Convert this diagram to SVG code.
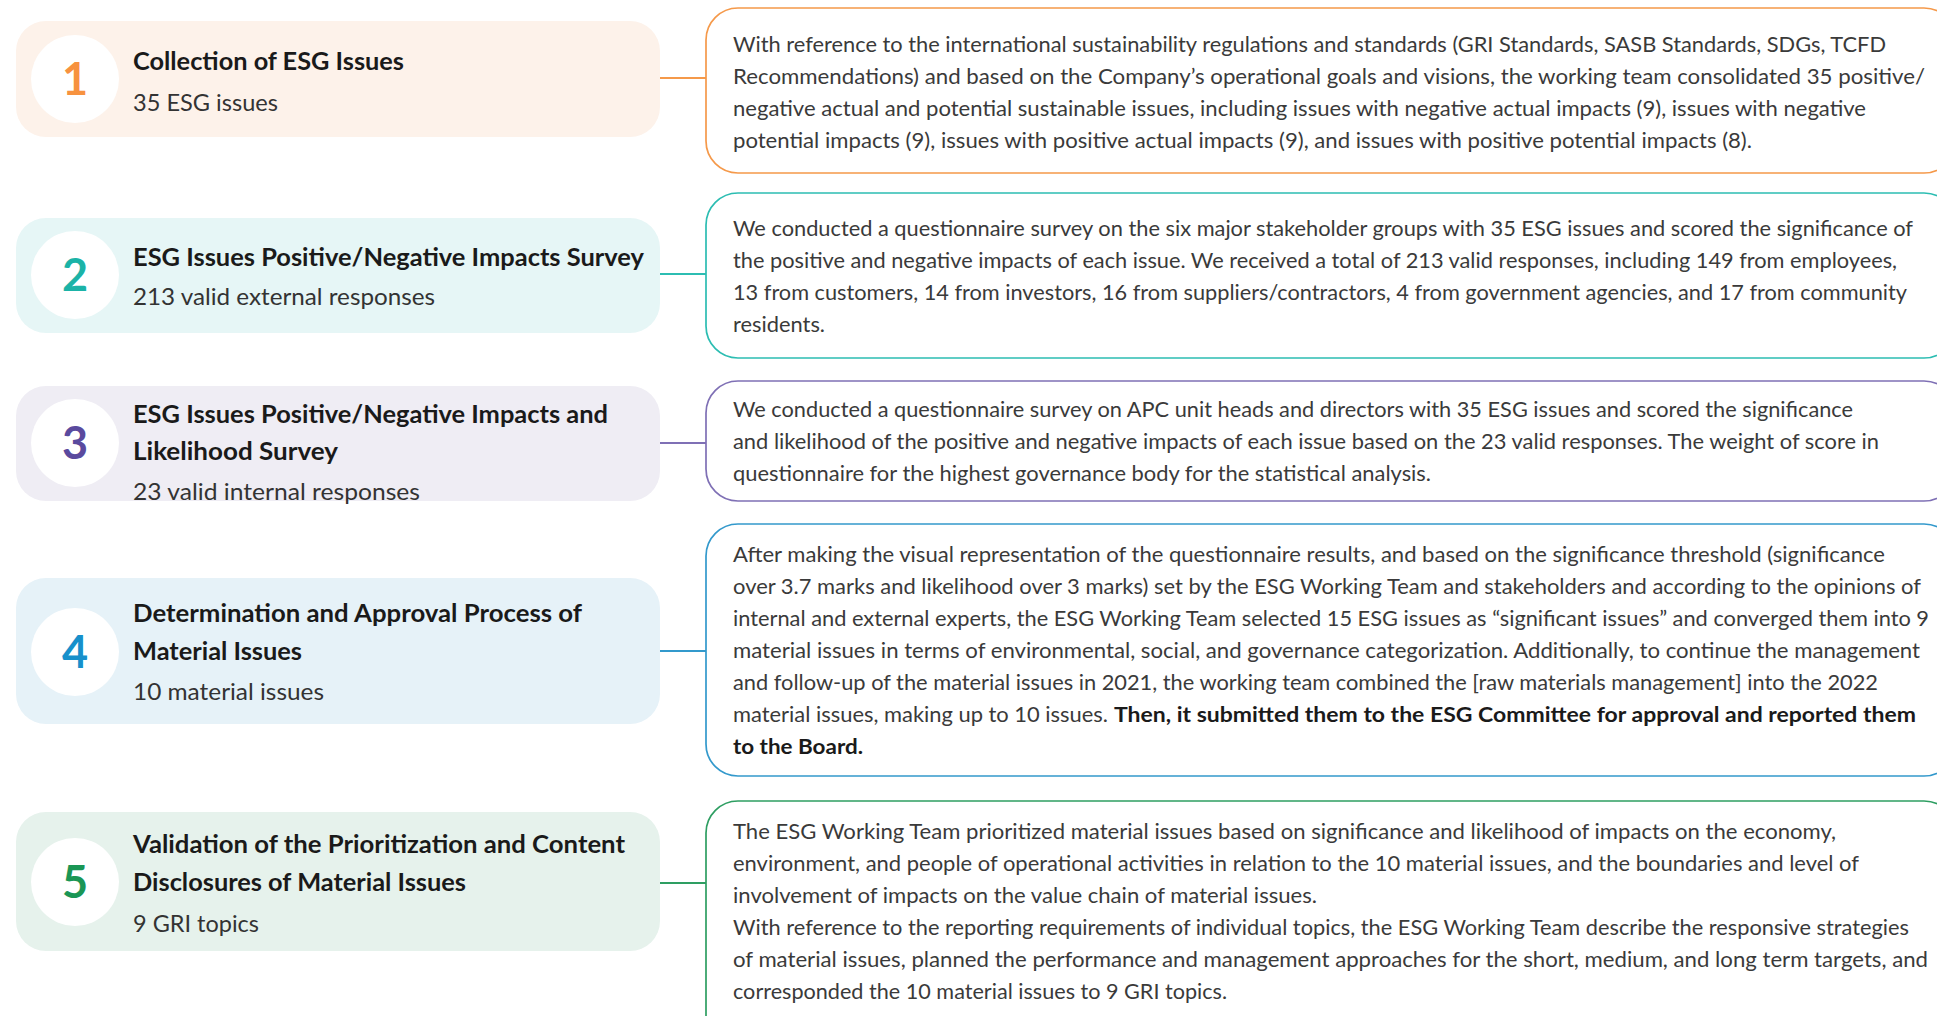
<svg xmlns="http://www.w3.org/2000/svg" width="1937" height="1016" viewBox="0 0 1937 1016">
<style>
.card{stroke:none}
.circ{fill:#ffffff}
.num{font-family:Lato,"Liberation Sans",sans-serif;font-weight:700;font-size:45px;text-anchor:middle}
.ttl{font-family:Lato,"Liberation Sans",sans-serif;font-weight:700;font-size:24px;fill:#1a1a1a}
.sub{font-family:Lato,"Liberation Sans",sans-serif;font-weight:400;font-size:24px;fill:#333333}
.box{fill:#ffffff;stroke-width:1.7}
.body{font-family:Lato,"Liberation Sans",sans-serif;font-weight:400;font-size:21px;fill:#3a3a3a}
.bold{font-weight:700;fill:#1a1a1a}
.conn{stroke-width:2;fill:none}
</style>
<rect width="1937" height="1016" fill="#ffffff"/>
<g id="connectors">
<line class="conn" x1="660" y1="78" x2="707" y2="78" stroke="#F5994A"/>
<line class="conn" x1="660" y1="274" x2="707" y2="274" stroke="#2CBDB2"/>
<line class="conn" x1="660" y1="443" x2="707" y2="443" stroke="#7F70B5"/>
<line class="conn" x1="660" y1="651" x2="707" y2="651" stroke="#3399CC"/>
<line class="conn" x1="660" y1="883" x2="707" y2="883" stroke="#2E9E62"/>
</g>
<g id="step1">
<rect class="card" x="16" y="21" width="644" height="116" rx="30" fill="#FDF2EA"/>
<circle class="circ" cx="75" cy="79" r="44"/>
<text class="num" x="75" y="95" fill="#F7923F">1</text>
<text class="ttl" x="133" y="70" textLength="271" lengthAdjust="spacingAndGlyphs">Collection of ESG Issues</text>
<text class="sub" x="133" y="111" textLength="145" lengthAdjust="spacingAndGlyphs">35 ESG issues</text>
</g>
<g id="detail1">
<rect class="box" x="706" y="8" width="1250" height="165" rx="32" stroke="#F5994A"/>
<text class="body" x="733" y="52" textLength="1153" lengthAdjust="spacingAndGlyphs">With reference to the international sustainability regulations and standards (GRI Standards, SASB Standards, SDGs, TCFD</text>
<text class="body" x="733" y="84" textLength="1192" lengthAdjust="spacingAndGlyphs">Recommendations) and based on the Company’s operational goals and visions, the working team consolidated 35 positive/</text>
<text class="body" x="733" y="116" textLength="1133" lengthAdjust="spacingAndGlyphs">negative actual and potential sustainable issues, including issues with negative actual impacts (9), issues with negative</text>
<text class="body" x="733" y="148" textLength="1019" lengthAdjust="spacingAndGlyphs">potential impacts (9), issues with positive actual impacts (9), and issues with positive potential impacts (8).</text>
</g>
<g id="step2">
<rect class="card" x="16" y="218" width="644" height="115" rx="30" fill="#E6F6F6"/>
<circle class="circ" cx="75" cy="275" r="44"/>
<text class="num" x="75" y="291" fill="#1BB3A7">2</text>
<text class="ttl" x="133" y="266" textLength="511" lengthAdjust="spacingAndGlyphs">ESG Issues Positive/Negative Impacts Survey</text>
<text class="sub" x="133" y="305" textLength="302" lengthAdjust="spacingAndGlyphs">213 valid external responses</text>
</g>
<g id="detail2">
<rect class="box" x="706" y="193" width="1250" height="165" rx="32" stroke="#2CBDB2"/>
<text class="body" x="733" y="236" textLength="1180" lengthAdjust="spacingAndGlyphs">We conducted a questionnaire survey on the six major stakeholder groups with 35 ESG issues and scored the significance of</text>
<text class="body" x="733" y="268" textLength="1164" lengthAdjust="spacingAndGlyphs">the positive and negative impacts of each issue. We received a total of 213 valid responses, including 149 from employees,</text>
<text class="body" x="733" y="300" textLength="1174" lengthAdjust="spacingAndGlyphs">13 from customers, 14 from investors, 16 from suppliers/contractors, 4 from government agencies, and 17 from community</text>
<text class="body" x="733" y="332" textLength="92" lengthAdjust="spacingAndGlyphs">residents.</text>
</g>
<g id="step3">
<rect class="card" x="16" y="386" width="644" height="115" rx="30" fill="#EFEDF4"/>
<circle class="circ" cx="75" cy="443" r="44"/>
<text class="num" x="75" y="459" fill="#5A4A9E">3</text>
<text class="ttl" x="133" y="423" textLength="475" lengthAdjust="spacingAndGlyphs">ESG Issues Positive/Negative Impacts and</text>
<text class="ttl" x="133" y="460" textLength="205" lengthAdjust="spacingAndGlyphs">Likelihood Survey</text>
<text class="sub" x="133" y="500" textLength="287" lengthAdjust="spacingAndGlyphs">23 valid internal responses</text>
</g>
<g id="detail3">
<rect class="box" x="706" y="381" width="1250" height="120" rx="32" stroke="#7F70B5"/>
<text class="body" x="733" y="417" textLength="1120" lengthAdjust="spacingAndGlyphs">We conducted a questionnaire survey on APC unit heads and directors with 35 ESG issues and scored the significance</text>
<text class="body" x="733" y="449" textLength="1146" lengthAdjust="spacingAndGlyphs">and likelihood of the positive and negative impacts of each issue based on the 23 valid responses. The weight of score in</text>
<text class="body" x="733" y="481" textLength="698" lengthAdjust="spacingAndGlyphs">questionnaire for the highest governance body for the statistical analysis.</text>
</g>
<g id="step4">
<rect class="card" x="16" y="578" width="644" height="146" rx="30" fill="#E6F2F8"/>
<circle class="circ" cx="75" cy="652" r="44"/>
<text class="num" x="75" y="668" fill="#1790CB">4</text>
<text class="ttl" x="133" y="622" textLength="449" lengthAdjust="spacingAndGlyphs">Determination and Approval Process of</text>
<text class="ttl" x="133" y="660" textLength="169" lengthAdjust="spacingAndGlyphs">Material Issues</text>
<text class="sub" x="133" y="700" textLength="191" lengthAdjust="spacingAndGlyphs">10 material issues</text>
</g>
<g id="detail4">
<rect class="box" x="706" y="524" width="1250" height="252" rx="32" stroke="#3399CC"/>
<text class="body" x="733" y="562" textLength="1152" lengthAdjust="spacingAndGlyphs">After making the visual representation of the questionnaire results, and based on the significance threshold (significance</text>
<text class="body" x="733" y="594" textLength="1188" lengthAdjust="spacingAndGlyphs">over 3.7 marks and likelihood over 3 marks) set by the ESG Working Team and stakeholders and according to the opinions of</text>
<text class="body" x="733" y="626" textLength="1196" lengthAdjust="spacingAndGlyphs">internal and external experts, the ESG Working Team selected 15 ESG issues as “significant issues” and converged them into 9</text>
<text class="body" x="733" y="658" textLength="1187" lengthAdjust="spacingAndGlyphs">material issues in terms of environmental, social, and governance categorization. Additionally, to continue the management</text>
<text class="body" x="733" y="690" textLength="1145" lengthAdjust="spacingAndGlyphs">and follow-up of the material issues in 2021, the working team combined the [raw materials management] into the 2022</text>
<text class="body" x="733" y="722" textLength="375" lengthAdjust="spacingAndGlyphs">material issues, making up to 10 issues.</text>
<text class="body bold" x="1114" y="722" textLength="802" lengthAdjust="spacingAndGlyphs">Then, it submitted them to the ESG Committee for approval and reported them</text>
<text class="body bold" x="733" y="754" textLength="130" lengthAdjust="spacingAndGlyphs">to the Board.</text>
</g>
<g id="step5">
<rect class="card" x="16" y="812" width="644" height="139" rx="30" fill="#E6F2EC"/>
<circle class="circ" cx="75" cy="882" r="44"/>
<text class="num" x="75" y="898" fill="#1A9655">5</text>
<text class="ttl" x="133" y="853" textLength="492" lengthAdjust="spacingAndGlyphs">Validation of the Prioritization and Content</text>
<text class="ttl" x="133" y="891" textLength="333" lengthAdjust="spacingAndGlyphs">Disclosures of Material Issues</text>
<text class="sub" x="133" y="932" textLength="126" lengthAdjust="spacingAndGlyphs">9 GRI topics</text>
</g>
<g id="detail5">
<rect class="box" x="706" y="801" width="1250" height="250" rx="32" stroke="#2E9E62"/>
<text class="body" x="733" y="839" textLength="1103" lengthAdjust="spacingAndGlyphs">The ESG Working Team prioritized material issues based on significance and likelihood of impacts on the economy,</text>
<text class="body" x="733" y="871" textLength="1126" lengthAdjust="spacingAndGlyphs">environment, and people of operational activities in relation to the 10 material issues, and the boundaries and level of</text>
<text class="body" x="733" y="903" textLength="584" lengthAdjust="spacingAndGlyphs">involvement of impacts on the value chain of material issues.</text>
<text class="body" x="733" y="935" textLength="1176" lengthAdjust="spacingAndGlyphs">With reference to the reporting requirements of individual topics, the ESG Working Team describe the responsive strategies</text>
<text class="body" x="733" y="967" textLength="1195" lengthAdjust="spacingAndGlyphs">of material issues, planned the performance and management approaches for the short, medium, and long term targets, and</text>
<text class="body" x="733" y="999" textLength="494" lengthAdjust="spacingAndGlyphs">corresponded the 10 material issues to 9 GRI topics.</text>
</g>
</svg>
